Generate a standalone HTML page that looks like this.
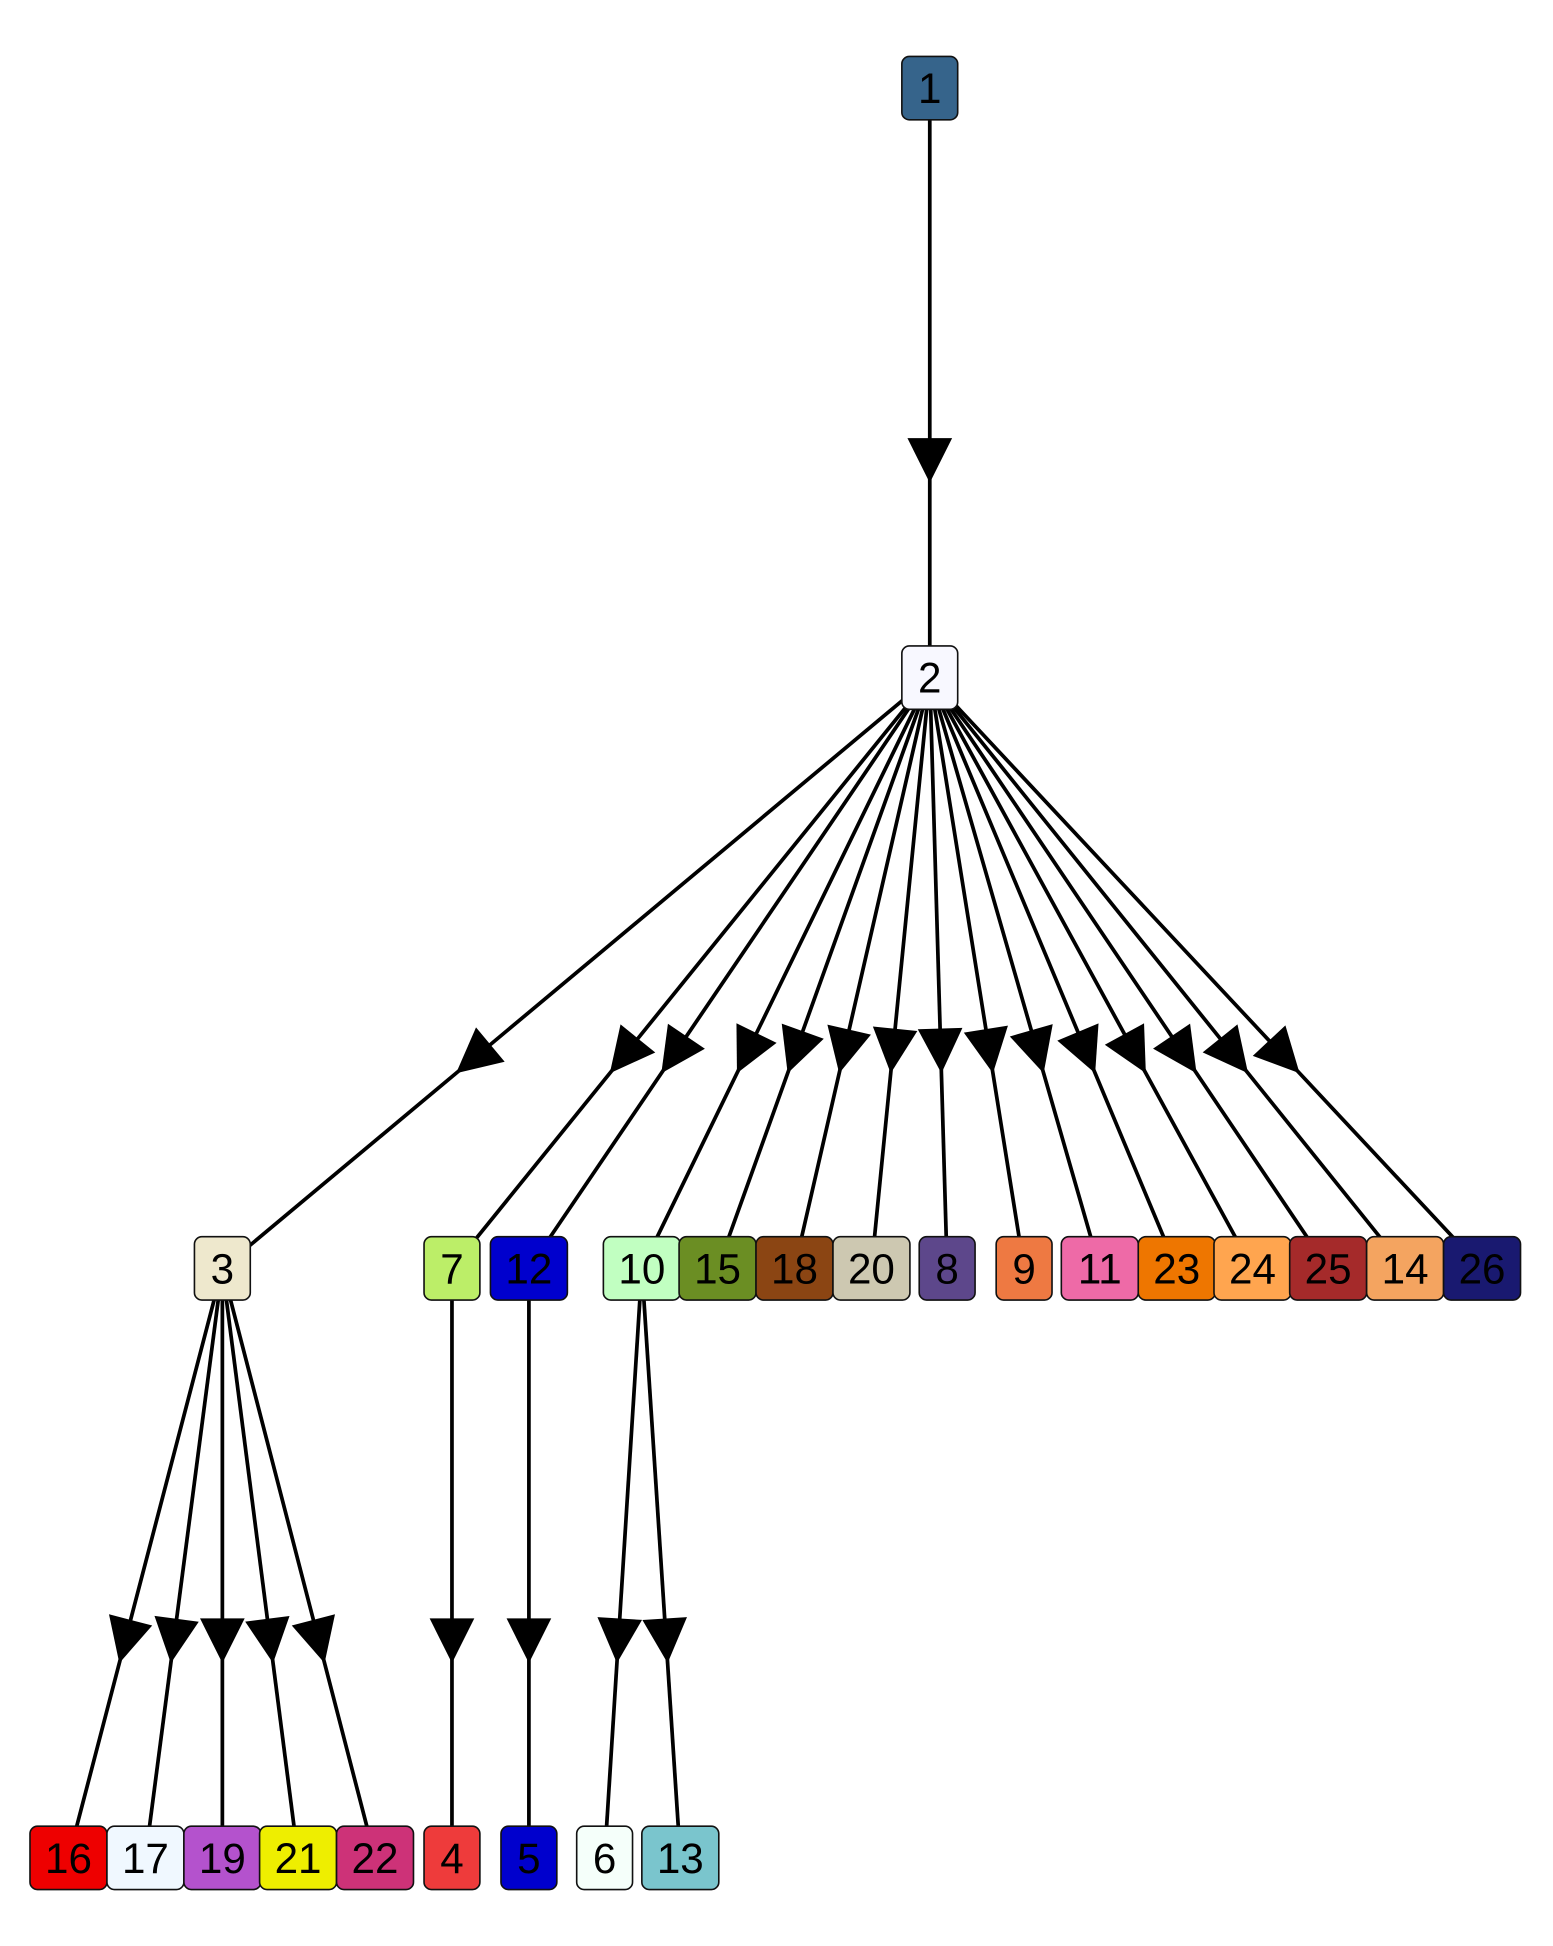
<!DOCTYPE html>
<html><head><meta charset="utf-8"><style>
html,body{margin:0;padding:0;background:#fff;}
svg{display:block;}
text{font-family:"Liberation Sans",sans-serif;}
</style></head><body>
<svg id="g" width="1553" height="1946" viewBox="0 0 1251 1568" xmlns="http://www.w3.org/2000/svg">
<g id="edges"></g>
<g id="nodes"></g>
</svg>
<script>
const labels = ["1","2","3","7","12","10","15","18","20","8","9","11","23","24","25","14","26","16","17","19","21","22","4","5","6","13"];
const colors = ["#36648B","#F8F8FF","#EEE8CD","#BCEE68","#0000CD","#C1FFC1","#6B8E23","#8B4513","#CDC8B1","#5D478B","#EE7942","#EE6AA7","#EE7600","#FFA54F","#A52A2A","#F4A460","#191970","#EE0000","#F0F8FF","#B452CD","#EEEE00","#CD3278","#EE3B3B","#0000CD","#F5FFFA","#7AC5CD"];
const levels = [0,1,2,2,2,2,2,2,2,2,2,2,2,2,2,2,2,3,3,3,3,3,3,3,3,3];
const xs = [749,749,179,364,426,517,578,640,702,763,825,886,948,1009,1070,1132,1194,55,117,179,240,302,364,426,487,548];
const parents = ["","1","2","2","2","2","2","2","2","2","2","2","2","2","2","2","2","3","3","3","3","3","7","12","10","10"];
const levelY = [71,546,1022,1497];
const H = 51;
const NS = "http://www.w3.org/2000/svg";
const eg = document.getElementById('edges'), ng = document.getElementById('nodes');
function mk(t, a){const e=document.createElementNS(NS,t);for(const k in a)e.setAttribute(k,a[k]);return e;}
labels.forEach((lab,i)=>{
  const p = labels.indexOf(parents[i]);
  if(p<0) return;
  const x1=xs[p], y1=levelY[levels[p]], x2=xs[i], y2=levelY[levels[i]];
  const ln = mk('line',{x1:x1,y1:y1,x2:x2,y2:y2,stroke:'#000','stroke-width':3});
  
  
  eg.appendChild(ln);
  const yb=y1+H/2, yt=y2-H/2;
  const ty = yb+0.69*(yt-yb);
  const f=(ty-y1)/(y2-y1);
  const tx = x1+f*(x2-x1);
  const dx=x2-x1, dy=y2-y1, L=Math.hypot(dx,dy), ux=dx/L, uy=dy/L;
  const bx=tx-ux*36, by=ty-uy*36, px=-uy*18, py=ux*18;
  const tri = mk('polygon',{points:`${tx},${ty} ${bx+px},${by+py} ${bx-px},${by-py}`,fill:'#000'});
  
  
  eg.appendChild(tri);
});
labels.forEach((lab,i)=>{
  const w = lab.length>1?62:45;
  const cx=xs[i], cy=levelY[levels[i]];
  const g = mk('g',{});
  
  
  g.appendChild(mk('rect',{x:cx-w/2,y:cy-H/2,width:w,height:H,rx:6,ry:6,fill:colors[i],stroke:'#111','stroke-width':1.3}));
  const t = mk('text',{x:cx,y:cy+12,'text-anchor':'middle','font-size':34,fill:'#000'});
  t.textContent = lab;
  g.appendChild(t);
  ng.appendChild(g);
});
</script>
</body></html>
